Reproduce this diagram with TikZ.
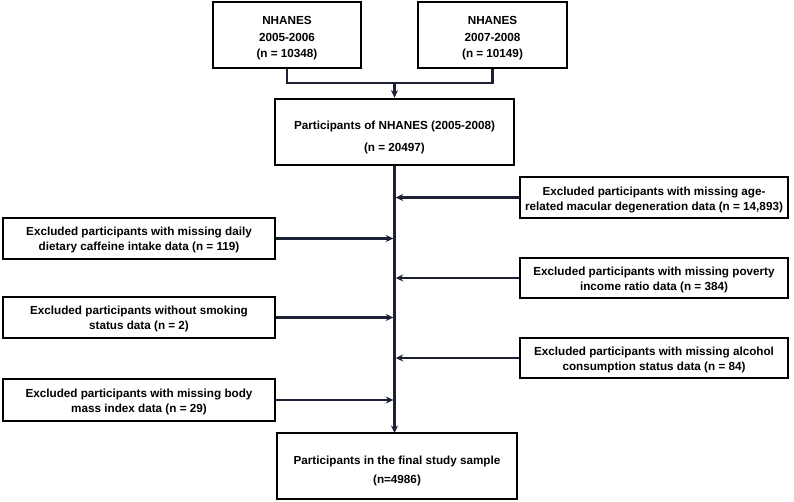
\documentclass[tikz,border=0pt]{standalone}
\usepackage{fontspec}
\setmainfont{Liberation Sans}
\usetikzlibrary{arrows.meta}
\definecolor{linec}{RGB}{28,32,52}
\newcommand{\topstrut}[1]{\rule{0pt}{#1pt}}
\begin{document}
\begin{tikzpicture}[x=1pt,y=-1pt,
  box/.style={draw=black,line width=2.6pt,fill=white,inner sep=0pt,align=center,
    font=\bfseries\fontsize{11.7}{15}\selectfont},
  conn/.style={draw=linec,line width=2.3pt},
  arr/.style={draw=linec,line width=2.3pt,-{Stealth[length=7.5pt,width=7pt]}}]
\useasboundingbox (0,0) rectangle (794,502);
\node[box,minimum width=148pt,minimum height=66pt,font=\bfseries\fontsize{11.7}{16.5}\selectfont] (b1) at (287,35) {\topstrut{15.4}NHANES\\2005-2006\\(n = 10348)};
\node[box,minimum width=149pt,minimum height=66pt,font=\bfseries\fontsize{11.7}{16.5}\selectfont] (b2) at (492.5,35) {\topstrut{15.4}NHANES\\2007-2008\\(n = 10149)};
\node[box,minimum width=239pt,minimum height=66pt,font=\bfseries\fontsize{11.7}{22}\selectfont] (b3) at (394.5,132) {\topstrut{18.5}Participants of NHANES (2005-2008)\\(n = 20497)};
\node[box,minimum width=268pt,minimum height=41pt] (r1) at (654,197.5) {\topstrut{13.5}Excluded participants with missing age-\\related macular degeneration data (n = 14,893)};
\node[box,minimum width=268pt,minimum height=40pt] (r2) at (654,278) {\topstrut{12.5}Excluded participants with missing poverty\\income ratio data (n = 384)};
\node[box,minimum width=268pt,minimum height=40pt] (r3) at (654,358) {\topstrut{12.5}Excluded participants with missing alcohol\\consumption status data (n = 84)};
\node[box,minimum width=272pt,minimum height=41pt] (l1) at (139,238.5) {\topstrut{12}Excluded participants with missing daily\\dietary caffeine intake data (n = 119)};
\node[box,minimum width=272pt,minimum height=41pt] (l2) at (139,317.5) {\topstrut{12}Excluded participants without smoking\\status data (n = 2)};
\node[box,minimum width=272pt,minimum height=42pt] (l3) at (139,400) {\topstrut{12}Excluded participants with missing body\\mass index data (n = 29)};
\node[box,minimum width=240pt,minimum height=66pt,font=\bfseries\fontsize{11.7}{19.5}\selectfont] (fin) at (397,466) {\topstrut{18.5}Participants in the final study sample\\(n=4986)};
\coordinate (j) at (394.5,83);
\coordinate (bot) at (394.5,433);
\draw[conn] (b1.south) |- (j);
\draw[conn] (b2.south) |- (j);
\draw[arr] (j) -- (b3.north -| j);
\draw[arr] (b3.south -| j) -- (bot);
\coordinate (e1) at ([xshift=1.2pt]r1.west -| j);
\coordinate (e2) at ([xshift=1.2pt]r2.west -| j);
\coordinate (e3) at ([xshift=1.2pt]r3.west -| j);
\coordinate (f1) at ([xshift=-1.2pt]l1.east -| j);
\coordinate (f2) at ([xshift=-1.2pt]l2.east -| j);
\coordinate (f3) at ([xshift=-1.2pt]l3.east -| j);
\draw[arr] (r1.west) -- (e1);
\draw[arr] (r2.west) -- (e2);
\draw[arr] (r3.west) -- (e3);
\draw[arr] (l1.east) -- (f1);
\draw[arr] (l2.east) -- (f2);
\draw[arr] (l3.east) -- (f3);
\end{tikzpicture}
\end{document}
